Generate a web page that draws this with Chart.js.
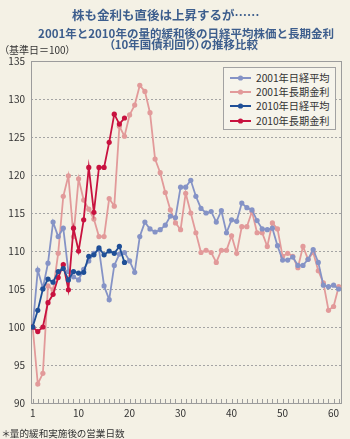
<!DOCTYPE html>
<html><head><meta charset="utf-8">
<script src="https://cdn.jsdelivr.net/npm/chart.js@4.4.1/dist/chart.umd.min.js"></script>
<style>
html,body{margin:0;padding:0;background:#f4f1e5;}
body{width:350px;height:439px;position:relative;overflow:hidden;font-family:"Noto Sans CJK JP","Noto Sans",sans-serif;}
#c{position:absolute;left:0;top:0;}
.t{position:absolute;white-space:nowrap;line-height:1;}
#title{left:72px;top:8.5px;font-size:12.5px;font-weight:bold;color:#3d5e8d;}
#sub1{left:0;width:372px;text-align:center;top:27.5px;font-size:11.5px;font-weight:bold;color:#3d5e8d;}
#sub2{left:0;width:367px;text-align:center;top:38.7px;font-size:11.5px;font-weight:bold;color:#3d5e8d;font-feature-settings:"palt";}
#unit{left:4px;top:44.5px;font-size:10px;color:#333;font-feature-settings:"palt";}
#foot{left:2px;top:429px;font-size:9.6px;color:#333;font-feature-settings:"palt";}
#legend{position:absolute;left:223px;top:67px;width:111px;height:61px;border:1px solid #a2a2a2;background:#f6f4eb;}
#legend .row{position:absolute;left:0;height:14px;line-height:14px;font-size:10.2px;color:#333;white-space:nowrap;}
#legend svg{position:absolute;left:6px;top:3px;}
#legend span{position:absolute;left:32px;top:0;}
</style>
</head><body>
<canvas id="c" width="350" height="439"></canvas>
<div id="title" class="t">株も金利も直後は上昇するが……</div>
<div id="sub1" class="t">2001年と2010年の量的緩和後の日経平均株価と長期金利</div>
<div id="sub2" class="t">（10年国債利回り）の推移比較</div>
<div id="unit" class="t">（基準日＝100）</div>
<div id="foot" class="t">＊量的緩和実施後の営業日数</div>
<div id="legend"></div>
<script>
// ---- data ----
const seriesNames = ["2001年日経平均", "2001年長期金利", "2010年日経平均", "2010年長期金利"];
const seriesColors = ["#8593c6", "#e29a9a", "#1f4f97", "#c8123f"];
const xTickLabels = [1, 10, 20, 30, 40, 50, 60];
const yTicks = [90, 95, 100, 105, 110, 115, 120, 125, 130, 135];

const nikkei2001 = [100, 107.5, 105.1, 108.4, 113.8, 111.9, 113.0, 107.3, 106.6, 106.2,
  107.6, 108.7, 109.7, 110.2, 105.4, 103.6, 108.1, 109.6, 109.8, 108.7,
  107.2, 111.9, 113.8, 112.9, 112.5, 112.8, 113.4, 114.6, 114.4, 118.4,
  118.4, 119.3, 117.2, 115.6, 115.0, 115.2, 113.8, 115.3, 112.4, 114.1,
  113.9, 116.3, 115.7, 115.4, 114.0, 112.9, 112.8, 113.0, 110.7, 108.8,
  108.8, 109.2, 108.1, 108.1, 108.9, 110.2, 108.5, 105.5, 105.3, 105.5, 105.0];
const rate2001 = [100, 92.5, 93.9, 105.4, 104.9, 109.7, 117.2, 119.9, 111.9, 119.5,
  116.7, 115.5, 114.2, 111.9, 111.9, 116.9, 115.9, 126.4, 125.1, 127.9,
  129.2, 131.8, 131.0, 128.2, 122.1, 120.3, 117.7, 115.4, 113.7, 112.8,
  117.6, 115.0, 112.4, 109.8, 110.1, 109.8, 108.5, 110.1, 110.1, 112.0,
  109.7, 113.2, 113.2, 115.2, 112.4, 112.4, 110.6, 113.7, 112.9, 109.3,
  109.7, 109.3, 107.8, 110.6, 108.9, 109.8, 107.4, 105.8, 102.2, 102.7, 105.3];
const nikkei2010 = [100, 102.2, 105.0, 106.3, 105.9, 107.3, 107.7, 106.2, 107.3, 107.1,
  107.2, 109.3, 109.5, 110.4, 109.5, 110.0, 109.7, 110.6, 108.5];
const rate2010 = [100, 99.4, 100.0, 103.2, 104.3, 106.5, 108.2, 104.9, 113.0, 110.0,
  114.1, 121.0, 115.1, 121.0, 121.0, 124.3, 128.0, 126.7, 127.5];

const allSeries = [nikkei2001, rate2001, nikkei2010, rate2010];
const drawOrder = [2, 2, 1, 1];

function toPoints(arr){ return arr.map((v,i)=>({x:i+1, y:v})); }

// legend (HTML)
const lg = document.getElementById('legend');
const rowCenters = [9.5, 24, 38, 52.5];
seriesNames.forEach((n,i)=>{
  const r = document.createElement('div');
  r.className='row'; r.style.top=(rowCenters[i]-7)+'px';
  r.innerHTML = '<svg width="22" height="8"><line x1="0" y1="4" x2="21" y2="4" stroke="'+seriesColors[i]+'" stroke-width="2"/><circle cx="10.5" cy="4" r="2.6" fill="'+seriesColors[i]+'"/></svg><span>'+n+'</span>';
  lg.appendChild(r);
});

const framePlugin = {
  id:'frame',
  beforeDatasetsDraw(chart){
    const {ctx, chartArea:a, scales:{x, y}} = chart;
    ctx.save();
    // dotted horizontal grid
    ctx.strokeStyle='#a4a4a4'; ctx.lineWidth=1; ctx.setLineDash([2,2]);
    ctx.beginPath();
    yTicks.forEach(v=>{
      if(v===90||v===135) return;
      const py = Math.round(y.getPixelForValue(v))+0.5;
      ctx.moveTo(a.left, py); ctx.lineTo(a.right, py);
    });
    ctx.stroke();
    ctx.setLineDash([]);
    // frame
    ctx.strokeStyle='#9c9c9c';
    ctx.strokeRect(a.left+0.5, a.top+0.5, a.right-a.left-1, a.bottom-a.top);
    // inward day ticks
    ctx.beginPath();
    for(let d=1; d<=61; d++){
      const px = Math.round(x.getPixelForValue(d))+0.5;
      ctx.moveTo(px, a.bottom); ctx.lineTo(px, a.bottom-4);
    }
    ctx.stroke();
    ctx.restore();
  }
};

new Chart(document.getElementById('c'), {
  type:'line',
  data:{
    datasets: allSeries.map((s,i)=>({
      label: seriesNames[i],
      data: toPoints(s),
      borderColor: seriesColors[i],
      backgroundColor: seriesColors[i],
      borderWidth: 1.8,
      pointRadius: 2.6,
      pointBorderWidth: 0,
      pointBackgroundColor: seriesColors[i],
      tension: 0,
      order: drawOrder[i]
    }))
  },
  options:{
    responsive:false,
    animation:false,
    devicePixelRatio:1,
    layout:{padding:{top:61, right:8, left:0, bottom:0}},
    plugins:{legend:{display:false}, tooltip:{enabled:false}, title:{display:false}},
    scales:{
      x:{
        type:'linear', min:0.67, max:61.65,
        afterBuildTicks(sc){ sc.ticks = xTickLabels.map(v=>({value:v})); },
        afterFit(sc){ sc.height = 36; },
        grid:{display:false, drawTicks:false},
        border:{display:false},
        ticks:{autoSkip:false, maxRotation:0, padding:4, color:'#333',
          font:{family:'"Noto Sans CJK JP", sans-serif', size:10},
          callback:(v)=>String(v)}
      },
      y:{
        min:90, max:135,
        afterBuildTicks(sc){ sc.ticks = yTicks.map(v=>({value:v})); },
        afterFit(sc){ sc.width = 31; },
        grid:{display:false, drawTicks:false},
        border:{display:false},
        ticks:{padding:6, color:'#333', font:{family:'"Noto Sans CJK JP", sans-serif', size:10}}
      }
    }
  },
  plugins:[framePlugin]
});
</script>
</body></html>
